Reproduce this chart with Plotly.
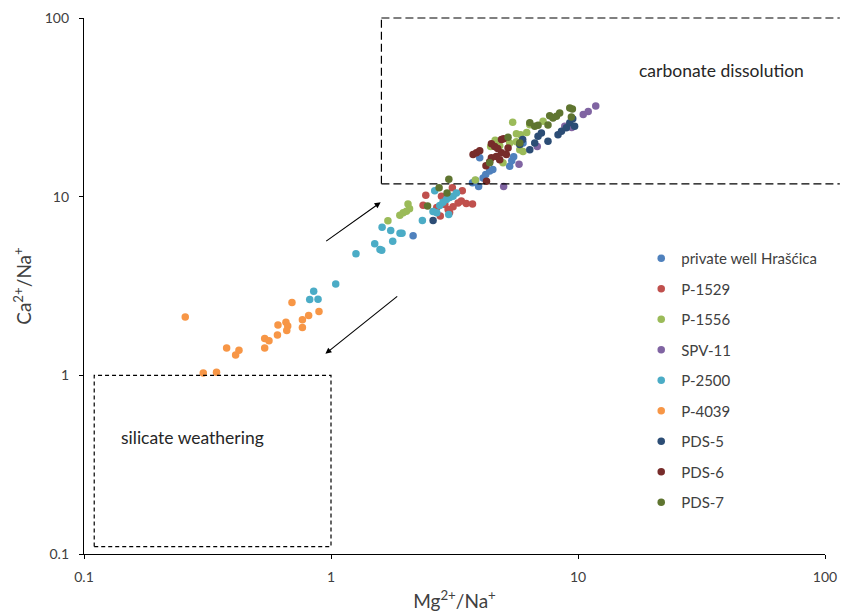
import math
import plotly.graph_objects as go

# Mg2+/Na+ and Ca2+/Na+ molar ratios per sampling site
series_names = ["private well Hrašćica", "P-1529", "P-1556", "SPV-11", "P-2500",
                "P-4039", "PDS-5", "PDS-6", "PDS-7"]
series_colors = ["#4F81BD", "#C0504D", "#9BBB59", "#8064A2", "#4BACC6",
                 "#F79646", "#2C4D75", "#772C2A", "#5F7530"]

hrascica_mg = [2.15, 3.74, 3.96, 4.13, 4.23, 4.39, 4.52, 4.00, 5.29, 5.39, 5.49, 5.99, 3.85]
hrascica_ca = [6.04, 11.95, 11.4, 12.7, 13.3, 13.9, 14.2, 16.5, 14.8, 15.9, 16.7, 20.0, 12.3]

p1529_mg = [2.42, 2.36, 3.10, 3.40, 2.77, 2.98, 3.12, 3.27, 3.37, 3.53, 3.74, 2.80, 2.89, 3.02, 2.68]
p1529_ca = [10.2, 8.95, 11.2, 10.8, 7.79, 8.47, 8.77, 9.23, 9.47, 9.15, 9.11, 10.05, 9.03, 8.15, 8.69]

p1556_mg = [1.70, 1.90, 1.96, 2.02, 2.08, 2.05, 3.84, 4.43, 4.62, 5.44, 5.63, 5.86, 6.20,
            6.38, 7.22, 4.97, 5.81, 5.63, 5.99, 5.29, 4.82]
p1556_ca = [7.32, 7.87, 8.12, 8.28, 8.55, 9.09, 12.4, 19.1, 20.7, 26.1, 22.5, 22.2, 22.9,
            25.3, 26.4, 15.5, 18.3, 20.3, 17.9, 20.0, 19.3]

spv11_mg = [5.00, 5.77, 6.84, 8.84, 9.43, 10.5, 11.0, 11.8]
spv11_ca = [11.4, 15.2, 19.1, 24.8, 24.4, 28.8, 30.0, 32.2]

p2500_mg = [0.851, 0.820, 0.886, 1.045, 1.262, 1.503, 1.579, 1.605, 1.61, 1.745, 1.903, 1.939,
            1.778, 2.344, 2.63, 2.588, 2.68, 2.756, 2.84, 2.933, 3.024, 3.12, 3.22, 2.996]
p2500_ca = [2.96, 2.66, 2.67, 3.25, 4.79, 5.45, 5.06, 5.02, 6.74, 6.46, 6.24, 6.24,
            5.63, 7.35, 10.8, 8.26, 8.12, 8.92, 9.30, 9.63, 9.89, 10.05, 10.5, 7.94]

p4039_mg = [0.257, 0.695, 0.894, 0.812, 0.766, 0.657, 0.668, 0.662, 0.610, 0.766, 0.607,
            0.539, 0.561, 0.539, 0.378, 0.424, 0.411, 0.304, 0.344]
p4039_ca = [2.12, 2.56, 2.28, 2.16, 2.05, 1.98, 1.89, 1.78, 1.91, 1.85, 1.68,
            1.61, 1.56, 1.42, 1.42, 1.38, 1.30, 1.03, 1.04]

pds5_mg = [2.59, 5.81, 6.38, 6.68, 6.89, 7.11, 7.56, 8.30, 8.57, 8.97, 9.26, 9.69, 9.52, 5.97]
pds5_ca = [7.35, 19.6, 18.3, 20.0, 21.8, 22.7, 20.4, 22.2, 23.2, 24.3, 25.9, 24.8, 27.3, 20.9]

pds6_mg = [3.76, 3.88, 4.00, 4.46, 4.60, 4.90, 5.00, 4.26, 4.24, 4.46, 4.67, 4.90, 5.13,
           5.21, 4.39, 4.82, 4.73]
pds6_ca = [17.2, 17.6, 18.1, 19.8, 19.1, 20.9, 21.1, 12.2, 14.9, 16.5, 16.8, 17.6, 17.2,
           18.7, 15.7, 16.1, 18.6]

pds7_mg = [3.00, 2.74, 2.95, 2.46, 5.21, 4.39, 5.81, 6.68, 6.89, 7.68, 7.92, 8.18, 8.43,
           9.26, 9.49, 9.40, 7.56, 6.38]
pds7_ca = [12.5, 11.2, 10.5, 8.86, 21.5, 15.5, 20.0, 24.8, 25.1, 28.4, 27.6, 28.2, 29.4,
           31.4, 31.0, 27.9, 25.2, 25.9]

series_x = [hrascica_mg, p1529_mg, p1556_mg, spv11_mg, p2500_mg, p4039_mg, pds5_mg, pds6_mg, pds7_mg]
series_y = [hrascica_ca, p1529_ca, p1556_ca, spv11_ca, p2500_ca, p4039_ca, pds5_ca, pds6_ca, pds7_ca]

tick_values = [0.1, 1, 10, 100]
tick_labels = ["0.1", "1", "10", "100"]

# Field boundaries (ratio values)
silicate_box = (0.11, 1.0, 0.11, 1.0)        # x0, x1, y0, y1
carbonate_box = (1.6, 11.8, 100.0)           # left x, bottom y, top y

FONT = "Lato"
TEXT = "#404040"

fig = go.Figure()
for name, color, xs, ys in zip(series_names, series_colors, series_x, series_y):
    fig.add_trace(go.Scatter(
        x=xs, y=ys, mode="markers", name=name, legendgroup=name,
        marker=dict(color=color, size=7.5, line=dict(width=0)),
    ))


def paper_pos(v):
    # position of a ratio value on the 0.1-100 log axes, in paper units
    return (math.log10(v) + 1) / 3


x0, x1, y0, y1 = silicate_box
fig.add_shape(type="rect", xref="x", yref="y", x0=x0, x1=x1, y0=y0, y1=y1,
              line=dict(color="black", width=1.2, dash="4px,3px"))

cx, cy0, cy1 = carbonate_box
long_dash = dict(color="black", width=1.2, dash="8px,4px")
fig.add_shape(type="line", xref="paper", yref="paper",
              x0=paper_pos(cx), x1=1.02, y0=paper_pos(cy1), y1=paper_pos(cy1), line=long_dash)
fig.add_shape(type="line", xref="paper", yref="paper",
              x0=paper_pos(cx), x1=1.02, y0=paper_pos(cy0), y1=paper_pos(cy0), line=long_dash)
fig.add_shape(type="line", xref="paper", yref="paper",
              x0=paper_pos(cx), x1=paper_pos(cx), y0=paper_pos(cy0), y1=paper_pos(cy1), line=long_dash)

# Field labels (annotation positions on log axes are log10 values)
fig.add_annotation(x=math.log10(38.2), y=math.log10(50.7), xref="x", yref="y",
                   text="carbonate dissolution", showarrow=False,
                   font=dict(family=FONT, size=17.5, color="#262626"))
fig.add_annotation(x=math.log10(0.275), y=math.log10(0.45), xref="x", yref="y",
                   text="silicate weathering", showarrow=False,
                   font=dict(family=FONT, size=17.5, color="#262626"))

# Trend arrows
arrow_style = dict(showarrow=True, arrowhead=2, arrowsize=1.1, arrowwidth=1.1,
                   arrowcolor="black", axref="x", ayref="y", xref="x", yref="y", text="")
fig.add_annotation(x=math.log10(1.589), y=math.log10(9.30),
                   ax=math.log10(0.943), ay=math.log10(5.56), **arrow_style)
fig.add_annotation(x=math.log10(0.949), y=math.log10(1.32),
                   ax=math.log10(1.88), ay=math.log10(2.81), **arrow_style)

axis_common = dict(
    type="log", range=[-1, 2], tickvals=tick_values, ticktext=tick_labels,
    showgrid=False, zeroline=False, showline=True, linecolor="black", linewidth=1.3,
    ticks="outside", ticklen=4, tickwidth=1.2, tickcolor="black", automargin=False,
    tickfont=dict(family=FONT, size=14, color=TEXT),
)

fig.update_layout(
    width=841, height=616,
    margin=dict(l=84, r=16, t=18, b=62),
    paper_bgcolor="white", plot_bgcolor="white",
    showlegend=True,
    legend=dict(x=0.752, y=0.582, xanchor="left", yanchor="top",
                font=dict(family=FONT, size=15, color=TEXT),
                tracegroupgap=8, bgcolor="rgba(0,0,0,0)", itemclick=False),
    xaxis=dict(**axis_common, ticklabelstandoff=6,
               title=dict(text="Mg<sup>2+</sup>/Na<sup>+</sup>", standoff=10,
                          font=dict(family=FONT, size=19, color=TEXT))),
    yaxis=dict(**axis_common, ticklabelstandoff=7,
               title=dict(text="Ca<sup>2+</sup>/Na<sup>+</sup>", standoff=8,
                          font=dict(family=FONT, size=19, color=TEXT))),
)

fig.write_html("out.html")
